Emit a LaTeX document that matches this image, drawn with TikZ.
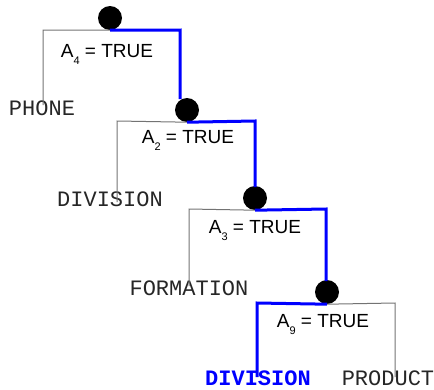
\documentclass[tikz,border=0pt]{standalone}
\usepackage{fontspec}
\setmainfont{Liberation Sans}
\newfontfamily\monofam{Liberation Mono}
\tikzset{
  dot/.style={circle,fill=black,draw=none,minimum size=24pt,inner sep=0pt},
  branch/.style={draw=black!55,line width=1pt},
  path/.style={draw=blue,line width=3pt},
  leaf/.style={font=\monofam\fontsize{22}{24}\selectfont,text=black!85,inner sep=0pt,anchor=base},
  hit/.style={font=\monofam\bfseries\fontsize{22}{24}\selectfont,text=blue,inner sep=0pt,anchor=base},
  cond/.style={font=\fontsize{19}{21}\selectfont,inner sep=0pt,anchor=base}
}
\newcommand{\condtext}[1]{A\raisebox{-7pt}{\fontsize{11}{11}\selectfont #1} = TRUE}
\begin{document}
\begin{tikzpicture}[x=1pt,y=-1pt]
\useasboundingbox (0,0) rectangle (434,389);
% nodes
\node[dot] (n1) at (110,18) {};
\node[dot] (n2) at (187,110) {};
\node[dot] (n3) at (255,198) {};
\node[dot] (n4) at (327,292) {};
\coordinate (c1l) at (43,30);  \coordinate (c1r) at (180,30);
\coordinate (c2l) at (117,121); \coordinate (c2r) at (255,121);
\coordinate (c3l) at (189,209); \coordinate (c3r) at (326,209);
\coordinate (c4l) at (257,303); \coordinate (c4r) at (395,303);
\coordinate (e1) at (180,99);
\coordinate (e2) at (255,187);
\coordinate (e3) at (326,281);
% leaves
\node[leaf] (phone) at (42,115) {PHONE};
\node[leaf] (div1) at (110,206) {DIVISION};
\node[leaf] (form) at (189,295) {FORMATION};
\node[hit] (div2) at (258,385) {DIVISION};
\node[leaf] (prod) at (388,385) {PRODUCT};
% labels
\node[cond] (a4) at (107,57) {\condtext{4}};
\node[cond] (a2) at (188,143) {\condtext{2}};
\node[cond] (a3) at (255,233) {\condtext{3}};
\node[cond] (a9) at (323,327) {\condtext{9}};
% gray branches
\draw[branch] (n1.south) -- (c1l) -- ([yshift=-5pt]phone.north -| c1l);
\draw[branch] (n2.south) -- (c2l) -- ([yshift=-11pt]div1.north -| c2l);
\draw[branch] (n3.south) -- (c3l) -- ([yshift=-6pt]form.north -| c3l);
\draw[branch] (n4.south) -- (c4r) -- ([yshift=-7pt]prod.north -| c4r);
% blue path
\draw[path] (n1.south) -- (c1r) -- (e1);
\draw[path] (n2.south) -- (c2r) -- (e2);
\draw[path] (n3.south) -- (c3r) -- (e3);
\draw[path] (n4.south) -- (c4l) -- ([yshift=-7pt]div2.north -| c4l);
\end{tikzpicture}
\end{document}
